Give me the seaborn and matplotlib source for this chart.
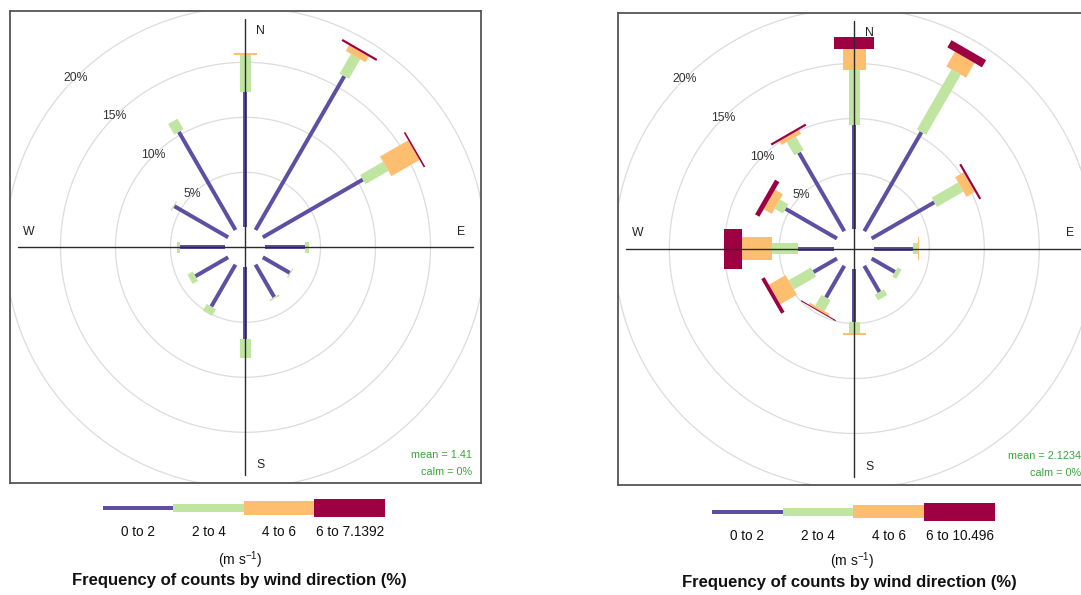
import numpy as np
import pandas as pd
import matplotlib
matplotlib.use("Agg")
import matplotlib.pyplot as plt
from matplotlib.patches import Rectangle
import seaborn as sns

# ---- data -------------------------------------------------------------
directions = [0, 30, 60, 90, 120, 150, 180, 210, 240, 270, 300, 330]
compass_labels = ["N", "E", "S", "W"]
ring_levels = [5, 10, 15, 20]

left_bins = ["0 to 2", "2 to 4", "4 to 6", "6 to 7.1392"]
left_0_2 = [12.3, 16.15, 10.5, 3.55, 2.83, 3.4, 6.55, 4.4, 3.45, 4.18, 5.66, 10.3]
left_2_4 = [3.4, 2.05, 2.4, 0.45, 0.1, 0.15, 1.65, 0.7, 0.55, 0.22, 0.1, 1.1]
left_4_6 = [0.12, 0.6, 2.95, 0, 0, 0, 0, 0, 0, 0, 0, 0]
left_6_up = [0, 0.2, 0.15, 0, 0, 0, 0, 0, 0, 0, 0, 0]
left_mean = "mean = 1.41"
left_calm = "calm = 0%"

right_bins = ["0 to 2", "2 to 4", "4 to 6", "6 to 10.496"]
right_0_2 = [9.45, 10.4, 6.58, 3.48, 2.45, 2.76, 4.85, 3.33, 2.47, 3.33, 5.4, 8.24]
right_2_4 = [5.0, 6.3, 2.78, 0.5, 0.41, 0.58, 1.05, 1.13, 2.33, 2.31, 0.86, 1.4]
right_4_6 = [1.85, 1.55, 0.89, 0.08, 0, 0, 0.1, 0.2, 1.75, 2.78, 0.84, 0.4]
right_6_up = [1.1, 0.75, 0.2, 0, 0, 0, 0, 0.1, 0.35, 1.61, 0.45, 0.2]
right_mean = "mean = 2.1234"
right_calm = "calm = 0%"

title_text = "Frequency of counts by wind direction (%)"
units_text = r"(m s$^{-1}$)"

# ---- style ------------------------------------------------------------
sns.set_theme(style="white")
plt.rcParams["font.family"] = ["Liberation Sans", "DejaVu Sans"]
plt.rcParams["mathtext.default"] = "regular"

W, H = 1081, 595
fig = plt.figure(figsize=(W / 100, H / 100), dpi=100)
fig.patch.set_facecolor("white")

spectral = sns.color_palette("Spectral_r", as_cmap=True)
bin_colors = [spectral(x) for x in np.linspace(0, 1, 4)]

PX = 11.0            # pixels per percent
HALF = 236.0         # half size of a panel in pixels
hole = 20.0 / PX     # calm offset at the centre
lim = HALF / PX
paddle_w = [4 / PX, 10.7 / PX, 22.7 / PX, 40 / PX]
legend_h = [4, 8, 13.3, 18]


def px_axes(x0, y0, w, h):
    """Add axes from pixel box (top-left origin)."""
    return fig.add_axes([x0 / W, 1 - (y0 + h) / H, w / W, h / H])


def paddle(ax, theta_deg, r0, r1, width, color):
    t = np.deg2rad(theta_deg)
    u = np.array([np.sin(t), np.cos(t)])
    v = np.array([np.cos(t), -np.sin(t)])
    a = (hole + r0) * u
    b = (hole + r1) * u
    pts = np.array([a + v * width / 2, b + v * width / 2,
                    b - v * width / 2, a - v * width / 2])
    ax.fill(pts[:, 0], pts[:, 1], color=color, lw=0, zorder=3)


def rose(cx, cy, bins, series, mean_txt, calm_txt):
    ax = px_axes(cx - HALF, cy - HALF, 2 * HALF, 2 * HALF)
    ax.set_xlim(-lim, lim)
    ax.set_ylim(-lim, lim)
    ax.set_xticks([])
    ax.set_yticks([])
    for s in ax.spines.values():
        s.set_color("#555555")
        s.set_linewidth(1.3)

    df = pd.DataFrame({"dir": directions})
    for name, vals in zip(bins, series):
        df[name] = vals

    # grid rings
    th = np.linspace(0, 2 * np.pi, 400)
    for p in ring_levels:
        r = hole + p
        ax.plot(r * np.cos(th), r * np.sin(th), color="#DCDCDC", lw=0.9, zorder=1)
        ang = np.deg2rad(135)
        ax.text(r * np.cos(ang), r * np.sin(ang), f"{p}%", fontsize=8.8,
                color="#333333", ha="center", va="center", zorder=6)

    # stacked paddles
    for _, row in df.iterrows():
        start = 0.0
        for k, name in enumerate(bins):
            val = row[name]
            if val > 0:
                paddle(ax, row["dir"], start, start + val, paddle_w[k], bin_colors[k])
            start += val

    # cross lines
    L = 228 / PX
    ax.plot([0, 0], [-L, L], color="#2b2b2b", lw=1.0, zorder=5)
    ax.plot([-L, L], [0, 0], color="#2b2b2b", lw=1.0, zorder=5)

    d = 216 / PX
    o = 15 / PX
    pos = {"N": (o, d), "E": (d, o), "S": (o, -d - 2 / PX), "W": (-d - 1 / PX, o)}
    for lab in compass_labels:
        ax.text(*pos[lab], lab, fontsize=8.8, color="#222222",
                ha="center", va="center", zorder=6)

    ax.text(0.5 + 226.7 / (2 * HALF), 0.5 - 207.7 / (2 * HALF), mean_txt,
            transform=ax.transAxes, ha="right", va="center", fontsize=7.8,
            color="#3AA53A")
    ax.text(0.5 + 226.7 / (2 * HALF), 0.5 - 224.4 / (2 * HALF), calm_txt,
            transform=ax.transAxes, ha="right", va="center", fontsize=7.8,
            color="#3AA53A")
    return ax


def key(x0, x1, yc, bins, label_dy, units_xy, title_xy):
    lax = px_axes(x0, yc - 10, x1 - x0, 20)
    lax.set_xlim(0, len(bins))
    lax.set_ylim(-10, 10)
    lax.axis("off")
    for i, name in enumerate(bins):
        h = legend_h[i]
        lax.add_patch(Rectangle((i, -h / 2), 1, h, color=bin_colors[i], lw=0))
        lax.text(i + 0.5, -label_dy, name, ha="center", va="center",
                 fontsize=9.8, color="#111111", clip_on=False)
    fig.text(units_xy[0] / W, 1 - units_xy[1] / H, units_text, ha="center",
             va="center", fontsize=10, color="#111111")
    fig.text(title_xy[0] / W, 1 - title_xy[1] / H, title_text, ha="center",
             va="center", fontsize=12, fontweight="bold", color="#111111")


rose(245.5, 247.3, left_bins, [left_0_2, left_2_4, left_4_6, left_6_up],
     left_mean, left_calm)
rose(854.3, 248.5, right_bins, [right_0_2, right_2_4, right_4_6, right_6_up],
     right_mean, right_calm)

key(102.7, 385.0, 508.0, left_bins, 24.5, (240, 560), (239, 581))
key(711.7, 995.0, 511.7, right_bins, 23.8, (851.7, 561.7), (849, 582))

fig.savefig("out.png", dpi=100, facecolor="white")
